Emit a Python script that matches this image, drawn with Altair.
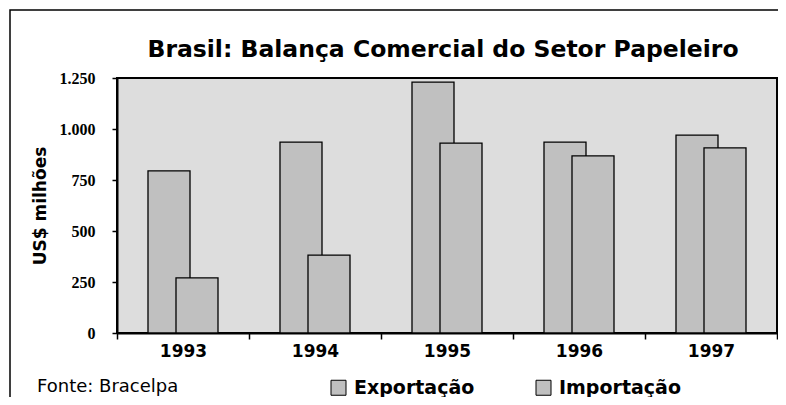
import altair as alt
import pandas as pd

YEARS = ["1993", "1994", "1995", "1996", "1997"]
EXPORT = [795, 936, 1230, 936, 970]
IMPORT = [270, 382, 931, 868, 907]
SERIES = ["Exportação", "Importação"]
Y_TICKS = [0, 250, 500, 750, 1000, 1250]
TITLE = "Brasil: Balança Comercial do Setor Papeleiro"
Y_TITLE = "US$ milhões"
SOURCE = ["Fonte: Bracelpa"]

rows = []
for y, e, i in zip(YEARS, EXPORT, IMPORT):
    rows.append({"ano": y, "serie": SERIES[0], "valor": e})
    rows.append({"ano": y, "serie": SERIES[1], "valor": i})
df = pd.DataFrame(rows)

BAR = "#c0c0c0"
SANS = "DejaVu Sans"

x_enc = alt.X("ano:N", sort=YEARS,
              scale=alt.Scale(paddingInner=0, paddingOuter=0),
              axis=alt.Axis(title=None, labelAngle=0, tickBand="extent",
                            tickSize=6, tickColor="black", tickWidth=1.5,
                            domainColor="black", domainWidth=2,
                            labelFont=SANS, labelFontWeight="bold",
                            labelFontSize=17, labelColor="black",
                            labelPadding=4))
y_enc = alt.Y("valor:Q",
              scale=alt.Scale(domain=[0, 1250], nice=False),
              axis=alt.Axis(values=Y_TICKS, grid=False,
                            labelExpr="replace(format(datum.value, ','), ',', '.')",
                            labelFont="Liberation Serif", labelFontWeight="bold",
                            labelFontSize=16, labelColor="black",
                            tickSize=5, tickColor="black", tickWidth=1.5,
                            domainColor="black", domainWidth=2,
                            labelPadding=17,
                            title=Y_TITLE, titleFont=SANS, titleFontWeight="bold",
                            titleFontSize=17, titleColor="black",
                            titleAngle=-90, titleX=-77, titleY=127.5,
                            titleAlign="center", titleBaseline="middle"))
color_enc = alt.Color("serie:N",
                      scale=alt.Scale(domain=SERIES, range=[BAR, BAR]),
                      legend=alt.Legend(title=None, orient="none",
                                        direction="horizontal",
                                        legendX=212, legendY=300))

base = alt.Chart(df)
exp_layer = base.transform_filter(alt.datum.serie == SERIES[0]).mark_bar(
    width=42, xOffset=-14, stroke="black", strokeWidth=1.3, opacity=1
).encode(x=x_enc, y=y_enc, color=color_enc)
imp_layer = base.transform_filter(alt.datum.serie == SERIES[1]).mark_bar(
    width=42, xOffset=14, stroke="black", strokeWidth=1.3, opacity=1
).encode(x=x_enc, y=y_enc, color=color_enc)

frame = alt.Chart(pd.DataFrame({"k": [0]})).mark_rect(
    fillOpacity=0, stroke="black", strokeWidth=1.5
).encode(x=alt.value(-107), x2=alt.value(700), y=alt.value(-68), y2=alt.value(400))

src = alt.Chart(pd.DataFrame({"t": SOURCE})).mark_text(
    align="left", baseline="middle", font=SANS, fontSize=18, color="black"
).encode(x=alt.value(-80), y=alt.value(309), text="t:N")

chart = alt.layer(frame, exp_layer, imp_layer, src).properties(
    width=660, height=255,
    background="white",
    autosize=alt.AutoSizeParams(type="none"),
    padding={"left": 109, "top": 70, "right": 1, "bottom": 64},
    title=alt.TitleParams(TITLE, font=SANS, fontWeight="bold", fontSize=23.5,
                          color="black", anchor="middle", frame="group",
                          baseline="alphabetic", offset=21, dx=-4, dy=92.5),
).configure_view(
    fill="#dddddd", stroke="black", strokeWidth=2
).configure_legend(
    symbolType="square", symbolSize=225, symbolStrokeColor="black",
    symbolStrokeWidth=1, labelFont=SANS, labelFontWeight="bold",
    labelFontSize=19, labelColor="black", labelOffset=6, columnPadding=59
)

chart.save("out.html", embed_options={"renderer": "svg", "actions": False})
